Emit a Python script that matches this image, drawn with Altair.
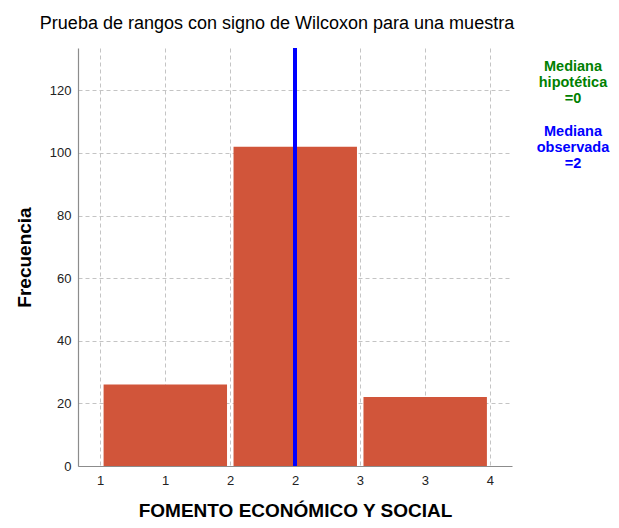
import altair as alt
import pandas as pd

# ---- data ----
bin_start = [1, 2, 3]
bin_end = [2, 3, 4]
frecuencia = [26, 102, 22]
x_ticks = [1, 1.5, 2, 2.5, 3, 3.5, 4]
x_tick_labels = ["1", "1", "2", "2", "3", "3", "4"]
y_ticks = [0, 20, 40, 60, 80, 100, 120]
mediana_observada_pos = [2.5]
nota_hipotetica = ["Mediana\nhipotética\n=0"]
nota_observada = ["Mediana\nobservada\n=2"]

FONT = "Liberation Sans"
BAR_COLOR = "#D1553A"

df = pd.DataFrame({"start": bin_start, "end": bin_end, "freq": frecuencia})

labels_js = "[" + ",".join(f"'{l}'" for l in x_tick_labels) + "]"
values_js = "[" + ",".join(str(v) for v in x_ticks) + "]"
label_expr = f"{labels_js}[indexof({values_js}, datum.value)]"

x_scale = alt.Scale(domain=[0.83, 4.17], nice=False, zero=False)
y_scale = alt.Scale(domain=[0, 133.5], nice=False)

bars = alt.Chart(df).mark_bar(color=BAR_COLOR, xOffset=3.5, x2Offset=-3).encode(
    x=alt.X(
        "start:Q",
        scale=x_scale,
        axis=alt.Axis(
            values=x_ticks,
            labelExpr=label_expr,
            title="FOMENTO ECONÓMICO Y SOCIAL",
            labelPadding=8,
            titlePadding=14,
        ),
    ),
    x2="end:Q",
    y=alt.Y(
        "freq:Q",
        scale=y_scale,
        axis=alt.Axis(values=y_ticks, title="Frecuencia", labelPadding=7, titlePadding=15),
    ),
    y2=alt.datum(0),
)

rule = alt.Chart(pd.DataFrame({"m": mediana_observada_pos})).mark_rule(
    color="#0000FF", strokeWidth=4
).encode(x=alt.X("m:Q", scale=x_scale))

note1 = alt.Chart(pd.DataFrame({"t": nota_hipotetica})).mark_text(
    font=FONT, fontSize=14.5, fontWeight="bold", color="#008000",
    lineBreak="\n", lineHeight=16, align="center", baseline="middle",
).encode(text="t:N", x=alt.value(495), y=alt.value(19))

note2 = alt.Chart(pd.DataFrame({"t": nota_observada})).mark_text(
    font=FONT, fontSize=14.5, fontWeight="bold", color="#0000FF",
    lineBreak="\n", lineHeight=16, align="center", baseline="middle",
).encode(text="t:N", x=alt.value(495), y=alt.value(84))

chart = (
    alt.layer(bars, rule, note1, note2)
    .properties(
        width=434,
        height=418,
        autosize=alt.AutoSizeParams(type="none"),
        padding={"left": 70, "top": 40, "right": 99, "bottom": 54},
        title=alt.TitleParams(
            text="Prueba de rangos con signo de Wilcoxon para una muestra",
            font=FONT,
            fontSize=18,
            fontWeight="normal",
            color="#000000",
            anchor="middle",
            dx=-18,
            offset=-1,
            baseline="alphabetic",
        ),
    )
    .configure_view(stroke=None)
    .configure_axis(
        domainColor="#8C8C8C",
        domainWidth=1.2,
        gridColor="#C4C4C4",
        gridDash=[4, 3],
        gridWidth=1,
        ticks=False,
        labelFont=FONT,
        labelFontSize=13,
        labelColor="#222222",
        titleFont=FONT,
        titleFontSize=19,
        titleFontWeight="bold",
        titleColor="#000000",
    )
)

chart.save("out.html", embed_options={"renderer": "svg", "actions": False})
